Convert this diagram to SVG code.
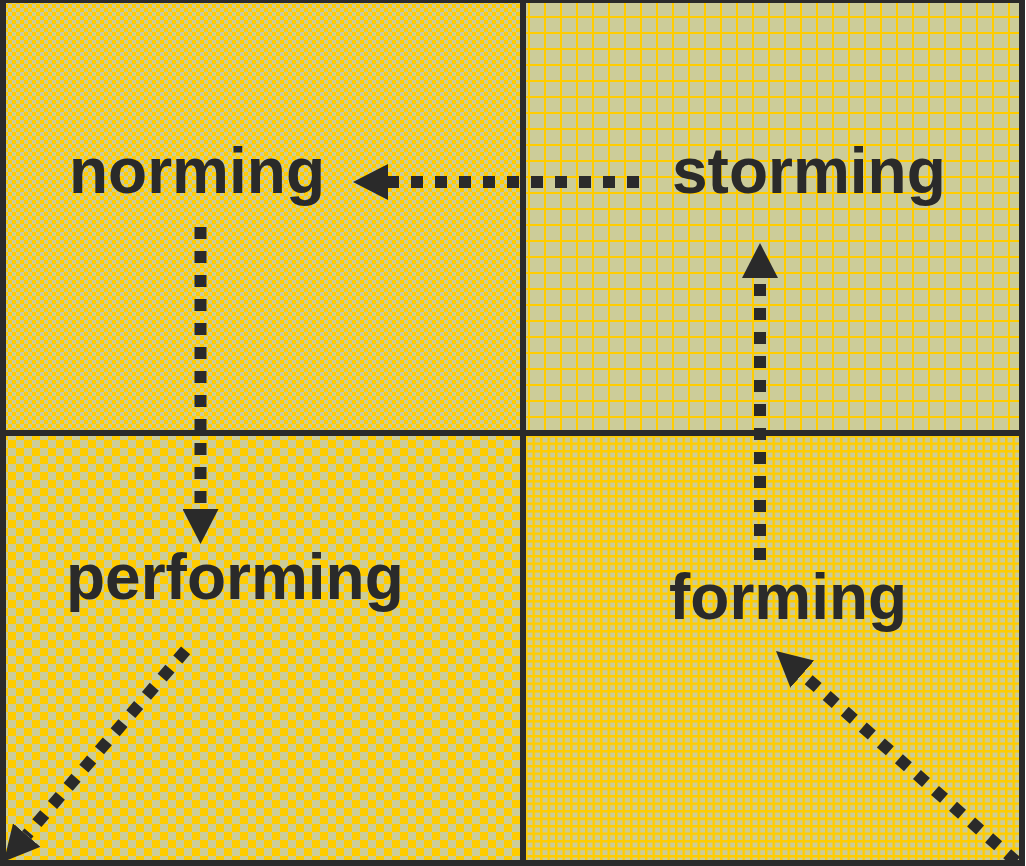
<svg xmlns="http://www.w3.org/2000/svg" width="1026" height="866" viewBox="0 0 1026 866">
<style>
.lbl{font-family:"Liberation Sans",Arial,sans-serif;font-weight:bold;font-size:64px;fill:#2a2a2a}
.conn{fill:none;stroke:#2a2a2a;stroke-width:12;stroke-dasharray:12 12;marker-end:url(#ah)}
.border{fill:none;stroke:#2a2a2a;stroke-width:6}
</style>
<defs>
<pattern id="chkS" width="8" height="8" patternUnits="userSpaceOnUse">
<rect width="8" height="8" fill="#cccc99"/>
<rect width="4" height="4" fill="#ffcc00"/>
<rect x="4" y="4" width="4" height="4" fill="#ffcc00"/>
</pattern>
<pattern id="chkL" width="16" height="16" patternUnits="userSpaceOnUse">
<rect width="16" height="16" fill="#cccc99"/>
<rect width="8" height="8" fill="#ffcc00"/>
<rect x="8" y="8" width="8" height="8" fill="#ffcc00"/>
</pattern>
<pattern id="gridL" width="16" height="16" patternUnits="userSpaceOnUse">
<rect width="16" height="16" fill="#cccc99"/>
<rect width="2" height="16" fill="#ffcc00"/>
<rect width="16" height="2" fill="#ffcc00"/>
</pattern>
<pattern id="gridS" width="7.5" height="7.5" patternUnits="userSpaceOnUse">
<rect width="7.5" height="7.5" fill="#cccc99"/>
<rect width="2.5" height="7.5" fill="#ffcc00"/>
<rect width="7.5" height="2.5" fill="#ffcc00"/>
</pattern>
<marker id="ah" viewBox="0 0 35 36" refX="0" refY="18" markerWidth="35" markerHeight="36" markerUnits="userSpaceOnUse" orient="auto">
<path d="M0,0 L35,18 L0,36 Z" fill="#2a2a2a"/>
</marker>
</defs>
<g id="quadrants">
<rect id="q-tl" x="3" y="0" width="520" height="433" fill="url(#chkS)"/>
<rect id="q-tr" x="523" y="0" width="499" height="433" fill="url(#gridL)"/>
<rect id="q-bl" x="3" y="433" width="520" height="430" fill="url(#chkL)"/>
<rect id="q-br" x="523" y="433" width="499" height="430" fill="url(#gridS)"/>
</g>
<g id="connectors">
<path class="conn" d="M639,182 L388,182"/>
<path class="conn" d="M200.5,227 L200.5,509"/>
<path class="conn" d="M760,560 L760,278"/>
<path class="conn" d="M1016.2,861.6 L802.3,674.1"/>
<path class="conn" d="M185.6,650.4 L26.7,835"/>
</g>
<g id="node-norming"><text class="lbl" x="69" y="193">norming</text></g>
<g id="node-storming"><text class="lbl" x="672" y="193">storming</text></g>
<g id="node-performing"><text class="lbl" x="66" y="599">performing</text></g>
<g id="node-forming"><text class="lbl" x="669" y="619">forming</text></g>
<g id="borders">
<rect class="border" x="3" y="0" width="1019" height="863"/>
<line class="border" x1="523" y1="0" x2="523" y2="863"/>
<line class="border" x1="3" y1="433" x2="1022" y2="433"/>
</g>
</svg>
